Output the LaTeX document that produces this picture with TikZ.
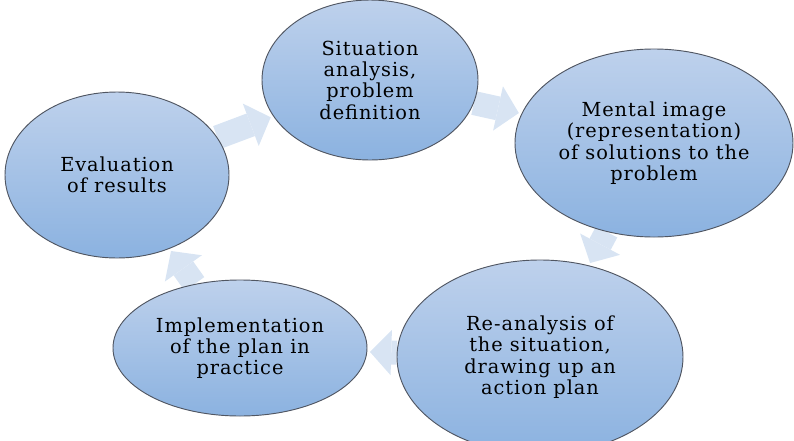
\documentclass[tikz,border=0pt]{standalone}
\usepackage{fontspec}
\setmainfont{DejaVu Serif}[LetterSpace=5]
\usetikzlibrary{shapes.geometric,arrows.meta,backgrounds}
\definecolor{ovaltop}{RGB}{190,209,236}
\definecolor{ovalbot}{RGB}{139,178,224}
\definecolor{ovalline}{RGB}{80,86,98}
\definecolor{arrowfill}{RGB}{216,228,243}

\begin{document}
\begin{tikzpicture}[x=0.75pt,y=-0.75pt]
\useasboundingbox (0,0) rectangle (794,440);
\begin{scope}[every node/.style={ellipse,draw=ovalline,line width=0.7pt,top color=ovaltop,bottom color=ovalbot,
              inner sep=0pt,align=center,font=\fontsize{14.5}{16}\selectfont}]
    \node[minimum width=162pt,minimum height=120pt] (S) at (370,80) {Situation\\analysis,\\problem\\definition};
    \node[minimum width=208.5pt,minimum height=141pt] (M) at (654,143) {Mental image\\(representation)\\of solutions to the\\problem};
    \node[minimum width=214.5pt,minimum height=145.5pt] (R) at (540,357) {Re-analysis of\\the situation,\\drawing up an\\action plan};
    \node[minimum width=190.5pt,minimum height=102pt] (I) at (240,348) {Implementation\\of the plan in\\practice};
    \node[minimum width=168pt,minimum height=124.5pt] (E) at (117,175) {Evaluation\\of results};
\end{scope}
\begin{scope}[on background layer,
              every edge/.style={draw=arrowfill,line width=18pt,shorten >=2pt,
                                 -{Triangle[length=16pt,width=34pt,line width=0pt]}}]
    \path (E) edge (S);
    \path (S) edge (M);
    \path (M) edge (R);
    \path (R) edge (I);
    \path (I) edge (E);
\end{scope}
\end{tikzpicture}
\end{document}
